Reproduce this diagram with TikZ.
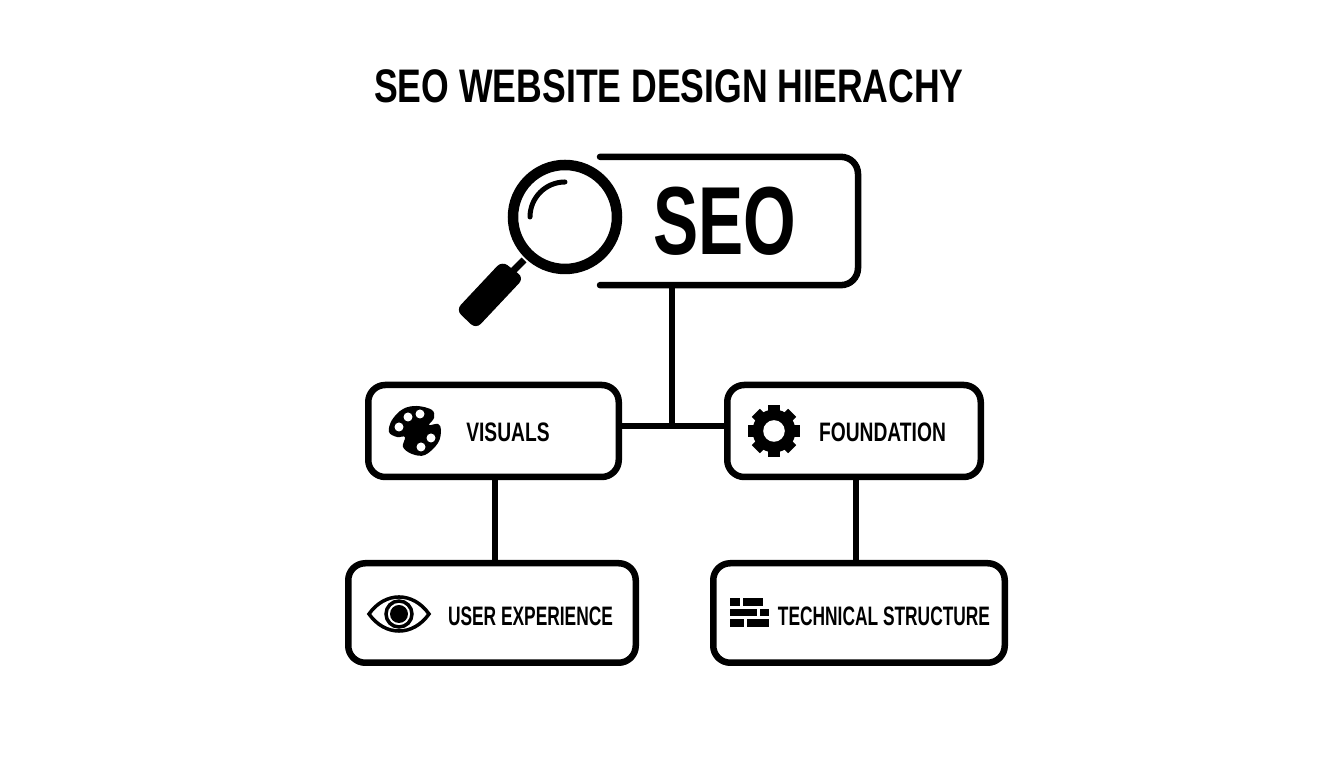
\documentclass[tikz,border=0pt]{standalone}
\usepackage{fontspec}
\setmainfont{Liberation Sans}[FakeStretch=0.72]
\newfontfamily\titlefont{Liberation Sans}[FakeStretch=0.756]
\newfontfamily\seofont{Liberation Sans}[FakeStretch=0.70]
\newfontfamily\lowerfont{Liberation Sans}[FakeStretch=0.65]
\usetikzlibrary{calc}
\tikzset{
  boxline/.style = {line width=0.065cm, black},
  linkline/.style = {line width=0.055cm, black},
  blockbox/.style = {boxline, draw, rounded corners=0.17cm, inner sep=0pt, outer sep=0pt, minimum height=0.92cm},
  blocklabel/.style = {font=\bfseries\fontsize{7.6}{9}\selectfont, inner sep=0pt},
  lowerlabel/.style = {font=\lowerfont\bfseries\fontsize{7.6}{9}\selectfont, inner sep=0pt},
}
\begin{document}
\begin{tikzpicture}
  \useasboundingbox (0,0) rectangle (13.44,7.68);
%Title
  \node[font=\titlefont\bfseries\fontsize{13.4}{16}\selectfont, inner sep=0pt] (title) at (6.69,6.82) {SEO WEBSITE DESIGN HIERACHY};
%SEO box
  \node[inner sep=0pt, outer sep=0pt, minimum width=2.58cm, minimum height=1.283cm] (seobox) at (7.29,5.47) {};
  \draw[boxline, rounded corners=0.17cm, line cap=round] (seobox.north west) -- (seobox.north east) -- (seobox.south east) -- (seobox.south west);
  \node[font=\seofont\bfseries\fontsize{27.5}{32}\selectfont, inner sep=0pt] (seolabel) at (7.25,5.47) {SEO};
%Magnifier
  \draw[line width=0.07cm] (5.24,5.08) -- (5.12,4.96);
  \fill[rounded corners=0.07cm] (5.02,5.07) -- (5.24,4.90) -- (4.76,4.39) -- (4.56,4.58) -- cycle;
  \draw[line width=0.105cm] (5.65,5.51) circle (0.52);
  \draw[line width=0.05cm, line cap=round] (5.30,5.51) arc (180:90:0.35);
%Middle and lower boxes
  \node[blockbox, minimum width=2.505cm] (visuals) at (4.935,3.37) {};
  \node[blockbox, minimum width=2.535cm] (foundation) at (8.54,3.37) {};
  \node[blockbox, minimum width=2.875cm, minimum height=0.995cm] (ux) at (4.92,1.55) {};
  \node[blockbox, minimum width=2.915cm, minimum height=0.995cm] (tech) at (8.59,1.55) {};
  \node[blocklabel] (visualslabel) at (5.08,3.36) {VISUALS};
  \node[blocklabel] (foundationlabel) at (8.825,3.36) {FOUNDATION};
  \node[lowerlabel] (uxlabel) at (5.305,1.52) {USER EXPERIENCE};
  \node[lowerlabel] (techlabel) at (8.84,1.52) {TECHNICAL STRUCTURE};
%Connectors
  \coordinate (junction) at (6.72,3.42);
  \coordinate (uxlink) at (4.95,2.5);
  \coordinate (techlink) at (8.56,2.5);
  \draw[linkline] (seobox.south -| junction) -- (junction);
  \draw[linkline] (visuals.east |- junction) -- (foundation.west |- junction);
  \draw[linkline] (visuals.south -| uxlink) -- (ux.north -| uxlink);
  \draw[linkline] (foundation.south -| techlink) -- (tech.north -| techlink);
%Palette
  \fill plot [smooth cycle, tension=0.6] coordinates{(4.17,3.62) (4.32,3.58) (4.34,3.50) (4.29,3.43) (4.38,3.44) (4.41,3.38) (4.38,3.25) (4.25,3.13) (4.12,3.14) (4.03,3.21) (4.05,3.31) (3.97,3.31) (3.89,3.36) (3.92,3.48) (4.03,3.59)};
  \foreach \x/\y in {4.08/3.51, 4.20/3.54, 3.99/3.41, 4.31/3.30, 4.21/3.21}
    \fill[white] (\x,\y) circle (0.045);
%Gear
  \coordinate (gear) at (7.74,3.37);
  \fill (gear) circle (0.215);
  \foreach \a in {0,45,...,315}
    \draw[line width=0.115cm] ($(gear)+(\a:0.15)$) -- ($(gear)+(\a:0.257)$);
  \fill[white] (gear) circle (0.108);
%Eye
  \coordinate (eye) at (3.99,1.54);
  \draw[line width=0.035cm, line join=miter] (3.69,1.54) .. controls (3.85,1.767) and (4.13,1.767) .. (4.29,1.54) .. controls (4.13,1.313) and (3.85,1.313) .. cycle;
  \draw[line width=0.035cm] (eye) circle (0.13);
  \fill (eye) circle (0.09);
%Bricks
  \foreach \xa/\xb/\ya/\yb in {7.30/7.40/1.62/1.697, 7.427/7.633/1.62/1.697, 7.30/7.573/1.517/1.593, 7.60/7.693/1.517/1.593, 7.30/7.443/1.413/1.49, 7.473/7.693/1.413/1.49}
    \fill (\xa,\ya) rectangle (\xb,\yb);
\end{tikzpicture}
\end{document}
